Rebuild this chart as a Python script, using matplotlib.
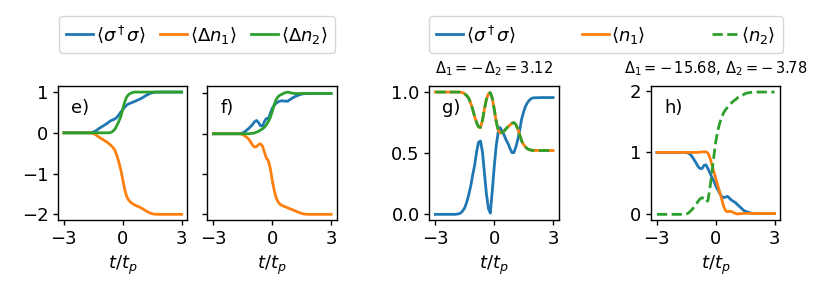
"""
plot.py
-------
Four small panels (e-h) of population dynamics vs t/t_p, with a shared
legend above each pair of panels. Saves the figure as out.png.
"""

import matplotlib
matplotlib.use("Agg")
import matplotlib.pyplot as plt

# ----------------------------------------------------------------------
# DATA
# ----------------------------------------------------------------------
T_EF = [-3.0, -2.0, -1.6, -1.4, -1.2, -1.0, -0.9, -0.8, -0.7, -0.6, -0.5,
        -0.4, -0.3, -0.2, -0.1, 0.0, 0.1, 0.2, 0.3, 0.4, 0.5, 0.6, 0.8,
        1.0, 1.2, 1.4, 1.6, 1.8, 2.0, 2.5, 3.0]

# panel e
SIGMA_E = [0.0, 0.0, 0.0, 0.04, 0.11, 0.17, 0.2, 0.23, 0.27, 0.3, 0.32,
           0.34, 0.38, 0.44, 0.51, 0.57, 0.63, 0.68, 0.71, 0.73, 0.75, 0.77, 0.81,
           0.86, 0.92, 0.97, 0.995, 1.0, 1.0, 1.0, 1.0]
DN1_E = [0.0, 0.0, 0.0, -0.04, -0.11, -0.17, -0.2, -0.23, -0.27, -0.31, -0.36,
         -0.43, -0.56, -0.72, -0.91, -1.15, -1.39, -1.56, -1.65, -1.7, -1.74, -1.77, -1.81,
         -1.86, -1.92, -1.97, -1.995, -2.0, -2.0, -2.0, -2.0]
DN2_E = [0.0, 0.0, 0.0, 0.0, 0.0, 0.0, 0.0, 0.0, 0.0, 0.01, 0.04,
         0.09, 0.18, 0.28, 0.4, 0.58, 0.76, 0.88, 0.94, 0.97, 0.99, 1.0, 1.0,
         1.0, 1.0, 1.0, 1.0, 1.0, 1.0, 1.0, 1.0]

# panel f
SIGMA_F = [0.0, 0.0, 0.0, 0.05, 0.13, 0.23, 0.3, 0.33, 0.28, 0.2, 0.19,
           0.3, 0.38, 0.37, 0.5, 0.63, 0.7, 0.76, 0.79, 0.81, 0.82, 0.81, 0.81,
           0.88, 0.93, 0.97, 0.995, 1.0, 1.0, 1.0, 1.0]
DN1_F = [0.0, 0.0, 0.0, -0.05, -0.13, -0.28, -0.33, -0.32, -0.27, -0.25, -0.3,
         -0.45, -0.6, -0.67, -0.85, -1.15, -1.4, -1.59, -1.69, -1.75, -1.78, -1.8, -1.84,
         -1.88, -1.92, -1.96, -1.99, -2.0, -2.0, -2.0, -2.0]
DN2_F = [0.0, 0.0, 0.0, 0.0, 0.0, 0.01, 0.02, 0.04, 0.06, 0.09, 0.12,
         0.16, 0.22, 0.3, 0.4, 0.55, 0.72, 0.85, 0.92, 0.96, 0.98, 1.01, 1.035,
         1.01, 0.995, 1.0, 1.0, 1.0, 1.0, 1.0, 1.0]

T_GH = [-3.0, -2.5, -2.0, -1.9, -1.8, -1.7, -1.6, -1.5, -1.4, -1.3, -1.2,
        -1.1, -1.0, -0.9, -0.8, -0.7, -0.6, -0.5, -0.4, -0.3, -0.2, -0.1,
        0.0, 0.1, 0.2, 0.3, 0.4, 0.5, 0.6, 0.7, 0.8, 0.9, 1.0, 1.1, 1.2,
        1.3, 1.4, 1.5, 1.6, 1.7, 1.8, 1.9, 2.0, 2.5, 3.0]

# panel g
SIGMA_G = [0.0, 0.0, 0.0, 0.002, 0.005, 0.012, 0.03, 0.055, 0.1, 0.16, 0.23,
           0.32, 0.4, 0.51, 0.59, 0.6, 0.51, 0.34, 0.17, 0.05, 0.01, 0.19,
           0.39, 0.56, 0.67, 0.71, 0.68, 0.65, 0.61, 0.58, 0.54, 0.505, 0.505, 0.55, 0.61,
           0.69, 0.78, 0.84, 0.885, 0.915, 0.935, 0.948, 0.953, 0.955, 0.955]
N1_G = [1.0, 1.0, 1.0, 1.0, 1.0, 0.998, 0.995, 0.985, 0.97, 0.95, 0.91,
        0.86, 0.8, 0.75, 0.715, 0.71, 0.77, 0.86, 0.94, 0.985, 0.995, 0.95,
        0.86, 0.76, 0.69, 0.665, 0.67, 0.68, 0.7, 0.715, 0.73, 0.745, 0.75, 0.735, 0.7,
        0.65, 0.6, 0.57, 0.55, 0.535, 0.528, 0.525, 0.523, 0.522, 0.522]
# <n2> lies exactly on top of <n1> in this panel
N2_G = list(N1_G)

# panel h
SIGMA_H = [1.0, 1.0, 1.0, 1.0, 1.0, 1.0, 1.0, 0.995, 0.99, 0.97, 0.93,
           0.88, 0.83, 0.77, 0.74, 0.74, 0.79, 0.8, 0.74, 0.67, 0.6, 0.54,
           0.46, 0.4, 0.34, 0.29, 0.27, 0.28, 0.29, 0.26, 0.23, 0.21, 0.19, 0.16, 0.13,
           0.1, 0.07, 0.05, 0.04, 0.03, 0.02, 0.015, 0.015, 0.015, 0.015]
N1_H = [1.0, 1.0, 1.0, 1.0, 1.0, 1.0, 1.0, 1.0, 1.0, 1.0, 1.0,
        1.0, 1.0, 1.0, 1.005, 1.008, 1.01, 1.01, 0.99, 0.92, 0.8, 0.69,
        0.58, 0.47, 0.36, 0.25, 0.13, 0.06, 0.04, 0.05, 0.045, 0.03, 0.015, 0.005, 0.01,
        0.012, 0.015, 0.015, 0.015, 0.015, 0.015, 0.015, 0.015, 0.015, 0.015]
N2_H = [0.0, 0.0, 0.0, 0.0, 0.0, 0.0, 0.0, 0.005, 0.02, 0.05, 0.08,
        0.12, 0.16, 0.21, 0.25, 0.27, 0.25, 0.2, 0.22, 0.42, 0.66, 0.93,
        1.17, 1.35, 1.47, 1.57, 1.64, 1.69, 1.73, 1.77, 1.8, 1.83, 1.85, 1.88, 1.9,
        1.92, 1.93, 1.95, 1.96, 1.965, 1.97, 1.975, 1.975, 1.975, 1.975]

LABELS_LEFT = [r"$\langle\sigma^\dagger\sigma\rangle$",
               r"$\langle\Delta n_1\rangle$",
               r"$\langle\Delta n_2\rangle$"]
LABELS_RIGHT = [r"$\langle\sigma^\dagger\sigma\rangle$",
                r"$\langle n_1\rangle$",
                r"$\langle n_2\rangle$"]
TITLE_G = r"$\Delta_1 = -\,\Delta_2 = 3.12$"
TITLE_H = r"$\Delta_1 = -\,15.68,\, \Delta_2 = -\,3.78$"

# ----------------------------------------------------------------------
# CONFIGURATION
# ----------------------------------------------------------------------
FONT_SIZE = 13
TITLE_SIZE = 10.5
LW = 2.0
AX_W = 0.1575
AX_B = 0.27
AX_H = 0.4454
LEFTS = [0.0706, 0.2524, 0.5225, 0.792]


def style_axis(ax, letter):
    ax.set_xticks([-3, 0, 3])
    ax.set_xlabel(r"$t/t_p$", fontsize=FONT_SIZE)
    ax.tick_params(labelsize=FONT_SIZE, width=1.0)
    for spine in ax.spines.values():
        spine.set_linewidth(1.0)
    ax.text(0.1, 0.835, letter, transform=ax.transAxes,
            fontsize=FONT_SIZE, ha="left", va="center")


def main():
    plt.rcParams["font.family"] = "DejaVu Sans"
    plt.rcParams["mathtext.fontset"] = "dejavusans"

    fig = plt.figure(figsize=(8.22, 3.02), dpi=100)
    axes = [fig.add_axes([l, AX_B, AX_W, AX_H]) for l in LEFTS]
    ax_e, ax_f, ax_g, ax_h = axes

    # e) and f): changes of populations
    for ax, s, d1, d2 in [(ax_e, SIGMA_E, DN1_E, DN2_E),
                          (ax_f, SIGMA_F, DN1_F, DN2_F)]:
        ax.plot(T_EF, s, color="C0", lw=LW, label=LABELS_LEFT[0])
        ax.plot(T_EF, d1, color="C1", lw=LW, label=LABELS_LEFT[1])
        ax.plot(T_EF, d2, color="C2", lw=LW, label=LABELS_LEFT[2])
        ax.set_yticks([-2, -1, 0, 1])
    ax_f.set_yticklabels([])
    style_axis(ax_e, "e)")
    style_axis(ax_f, "f)")

    # g) and h): absolute populations
    for ax, s, n1, n2 in [(ax_g, SIGMA_G, N1_G, N2_G),
                          (ax_h, SIGMA_H, N1_H, N2_H)]:
        ax.plot(T_GH, s, color="C0", lw=LW, label=LABELS_RIGHT[0])
        ax.plot(T_GH, n1, color="C1", lw=LW, label=LABELS_RIGHT[1])
        ax.plot(T_GH, n2, color="C2", lw=LW, ls="--", label=LABELS_RIGHT[2])
    ax_g.set_yticks([0, 0.5, 1.0])
    ax_g.set_yticklabels(["0.0", "0.5", "1.0"])
    ax_h.set_yticks([0, 1, 2])
    ax_g.set_title(TITLE_G, fontsize=TITLE_SIZE, pad=9)
    ax_h.set_title(TITLE_H, fontsize=TITLE_SIZE, pad=9)
    style_axis(ax_g, "g)")
    style_axis(ax_h, "h)")

    h1, l1 = ax_e.get_legend_handles_labels()
    fig.legend(h1, l1, loc="lower left", ncol=3, mode="expand",
               bbox_to_anchor=(0.0718, 0.8245, 0.3358, 0.13), borderaxespad=0,
               fontsize=FONT_SIZE, handlelength=1.5, handletextpad=0.15,
               columnspacing=0.5)
    h2, l2 = ax_h.get_legend_handles_labels()
    fig.legend(h2, l2, loc="lower left", ncol=3, mode="expand",
               bbox_to_anchor=(0.5219, 0.8245, 0.4307, 0.13), borderaxespad=0,
               fontsize=FONT_SIZE, handlelength=1.5, handletextpad=0.15)

    fig.savefig("out.png", dpi=100)
    plt.close(fig)


if __name__ == "__main__":
    main()
